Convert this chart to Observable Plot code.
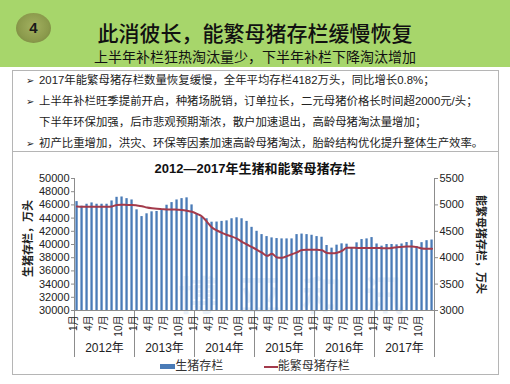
<!DOCTYPE html>
<html>
<head>
<meta charset="utf-8">
<script src="https://cdn.jsdelivr.net/npm/d3@7"></script>
<script src="https://cdn.jsdelivr.net/npm/@observablehq/plot@0.6"></script>
<style>
  html, body { margin: 0; padding: 0; background: #fff; }
  #page { position: relative; width: 510px; height: 384px; overflow: hidden; background: #fff;
          font-family: "Liberation Sans", "Noto Sans CJK SC", sans-serif; color: #222; }
  #header { position: absolute; left: 0; top: 0; width: 510px; height: 67px; background: #a7d66b; }
  #badge { position: absolute; left: 16px; top: 13px; width: 35px; height: 30px; border-radius: 50%;
           background: radial-gradient(ellipse at 50% 45%, #a3b160 0%, #8b9a4c 60%, #6f7d3a 100%);
           font: bold 15px "Liberation Sans", sans-serif; color: #1a1a1a; text-align: center; line-height: 30px; }
  #title { position: absolute; left: 0; width: 510px; top: 17px; text-align: center; font-size: 21px; font-weight: 500;
           color: #111; font-family: "Noto Sans CJK SC", sans-serif; }
  #subtitle { position: absolute; left: 0; width: 510px; top: 46px; text-align: center; font-size: 14px; color: #111;
           font-family: "Noto Sans CJK SC", sans-serif; }
  #box1 { position: absolute; left: 12px; top: 70px; width: 485px; height: 81px; border: 1px solid #b5b5b5; border-bottom: none; }
  #box2 { position: absolute; left: 12px; top: 151px; width: 485px; height: 222px; border: 1px solid #b5b5b5; }
  .bl { position: absolute; left: 26px; font-size: 11.4px; white-space: nowrap; color: #222; }
  .bl .m { display: inline-block; width: 13px; font-size: 10px; }
  #ctitle { position: absolute; left: 0; width: 510px; top: 158px; text-align: center; font-weight: bold; font-size: 13px; color: #111; }
  #chart { position: absolute; left: 13px; top: 172px; }
  #legend { position: absolute; left: 0; width: 510px; top: 356px; text-align: center; font-size: 12px; color: #333; }
  #legend span.sw { display: inline-block; vertical-align: middle; }
  #wm { position: absolute; left: 178px; top: 264px; font-size: 40px; font-weight: bold; color: #5b8fd6; opacity: 0.13;
        letter-spacing: 22px; font-family: "Noto Sans CJK SC", sans-serif; }
</style>
</head>
<body>
<div id="page">
  <div id="header"></div>
  <div id="badge">4</div>
  <div id="title">此消彼长，能繁母猪存栏缓慢恢复</div>
  <div id="subtitle">上半年补栏狂热淘汰量少，下半年补栏下降淘汰增加</div>
  <div id="box1"></div>
  <div id="box2"></div>
  <div class="bl" style="top:71px"><span class="m">➢</span>2017年能繁母猪存栏数量恢复缓慢，全年平均存栏4182万头，同比增长0.8%；</div>
  <div class="bl" style="top:92px"><span class="m">➢</span>上半年补栏旺季提前开启，种猪场脱销，订单拉长，二元母猪价格长时间超2000元/头；</div>
  <div class="bl" style="top:113px"><span class="m"></span>下半年环保加强，后市悲观预期渐浓，散户加速退出，高龄母猪淘汰量增加；</div>
  <div class="bl" style="top:134px"><span class="m">➢</span>初产比重增加，洪灾、环保等因素加速高龄母猪淘汰，胎龄结构优化提升整体生产效率。</div>
  <div id="ctitle">2012—2017年生猪和能繁母猪存栏</div>
  <div id="wm">博亚和讯</div>
  <div id="chart"></div>
  <div id="legend">
    <span class="sw" style="width:15px;height:5px;background:#4a7bb7;"></span><span>生猪存栏</span>
    <span style="display:inline-block;width:34px"></span>
    <span class="sw" style="width:14px;height:2px;background:#a33a4b;"></span><span>能繁母猪存栏</span>
  </div>
</div>
<script>
// ---- data (万头), monthly Jan 2012 – Dec 2017 ----
const years = [2012, 2013, 2014, 2015, 2016, 2017];
const monthLabels = ["1月", "4月", "7月", "10月"];
const monthLabelIdx = [0, 3, 6, 9];

const hog2012 = [46500, 45800, 46100, 46300, 46100, 46100, 46100, 46600, 47150, 47200, 46950, 46750];
const hog2013 = [45250, 44230, 44650, 44950, 45000, 45150, 45950, 46350, 46750, 46950, 47070, 46000];
const hog2014 = [44700, 44100, 43900, 43380, 43400, 43500, 43580, 43900, 44050, 43900, 43500, 42600];
const hog2015 = [42000, 41500, 41200, 41000, 40900, 40850, 40850, 40850, 41500, 41580, 41500, 41400];
const hog2016 = [41200, 41100, 39850, 39450, 39900, 40100, 40050, 39450, 40250, 40750, 40850, 41050];
const hog2017 = [40080, 39750, 40000, 40000, 39950, 40080, 40300, 40600, 39700, 40280, 40580, 40680];

const sow2012 = [4970, 4965, 4965, 4965, 4965, 4965, 4965, 4970, 5000, 5005, 5000, 5000];
const sow2013 = [4990, 4975, 4950, 4935, 4925, 4920, 4915, 4915, 4910, 4905, 4890, 4870];
const sow2014 = [4830, 4780, 4680, 4570, 4515, 4470, 4430, 4400, 4360, 4300, 4250, 4200];
const sow2015 = [4150, 4095, 4035, 4075, 4005, 4000, 4030, 4065, 4100, 4145, 4150, 4150];
const sow2016 = [4150, 4140, 4090, 4085, 4095, 4130, 4190, 4190, 4185, 4185, 4185, 4185];
const sow2017 = [4185, 4180, 4180, 4185, 4200, 4205, 4210, 4210, 4200, 4175, 4170, 4168];

const leftTicks = [30000, 32000, 34000, 36000, 38000, 40000, 42000, 44000, 46000, 48000, 50000];
const rightTicks = [3000, 3500, 4000, 4500, 5000, 5500];

// ---- build table ----
const hogAll = [hog2012, hog2013, hog2014, hog2015, hog2016, hog2017];
const sowAll = [sow2012, sow2013, sow2014, sow2015, sow2016, sow2017];
const data = [];
years.forEach((yr, k) => {
  hogAll[k].forEach((v, m) => data.push({i: k * 12 + m, year: yr, month: m + 1, hog: v, sow: sowAll[k][m]}));
});
// right axis (sows) mapped onto the left scale
const L0 = 30000, L1 = 50000, R0 = 3000, R1 = 5500;
const toLeft = s => L0 + (s - R0) * (L1 - L0) / (R1 - R0);
const fromLeft = v => Math.round(R0 + (v - L0) * (R1 - R0) / (L1 - L0));

const monthTicks = [];
years.forEach((yr, k) => monthLabelIdx.forEach((m, j) => monthTicks.push({x: k * 12 + m + 0.5, label: monthLabels[j]})));
const yearBounds = d3.range(0, years.length * 12 + 1, 12);
const yearCenters = years.map((yr, k) => ({x: k * 12 + 6, label: yr + "年"}));

const axisColor = "#8c8c8c";
const chart = Plot.plot({
  width: 485,
  height: 190,
  marginLeft: 61,
  marginRight: 64,
  marginTop: 6,
  marginBottom: 52,
  style: {fontFamily: '"Liberation Sans", "Noto Sans CJK SC", sans-serif', fontSize: "11px", color: "#222", background: "transparent", overflow: "visible"},
  x: {type: "linear", domain: [0, years.length * 12], axis: null},
  y: {domain: [L0, L1], axis: null},
  marks: [
    Plot.rectY(data, {x1: "i", x2: d => d.i + 1, y1: L0, y2: "hog", insetLeft: 1.4, insetRight: 1.3, fill: "#4a7bb7"}),
    Plot.line(data, {x: d => d.i + 0.5, y: d => toLeft(d.sow), stroke: "#a33a4b", strokeWidth: 2, curve: "monotone-x"}),
    Plot.ruleX([0], {stroke: axisColor}),
    Plot.ruleX([years.length * 12], {stroke: axisColor}),
    Plot.ruleY([L0], {stroke: axisColor}),
    Plot.axisY({anchor: "left", ticks: leftTicks, tickFormat: d => String(d), tickSize: 3, tickPadding: 2, fontSize: 11, stroke: axisColor, label: null}),
    Plot.axisY({anchor: "right", ticks: rightTicks.map(toLeft), tickFormat: d => String(fromLeft(d)), tickSize: 3, tickPadding: 2, fontSize: 11, stroke: axisColor, label: null}),
    Plot.axisX({anchor: "bottom", ticks: yearBounds, tickSize: 47, tickFormat: () => "", stroke: axisColor, label: null}),
    Plot.text(monthTicks, {x: "x", text: "label", frameAnchor: "bottom", dy: 5, rotate: -90, textAnchor: "end", fontSize: 10, fill: "#222"}),
    Plot.text(yearCenters, {x: "x", text: "label", frameAnchor: "bottom", dy: 41, fontSize: 12, fill: "#222"}),
    Plot.text(["生猪存栏，万头"], {frameAnchor: "left", dx: -46, dy: -6, rotate: -90, textAnchor: "middle", fontSize: 11, fontWeight: "bold", fill: "#222"}),
    Plot.text(["能繁母猪存栏，万头"], {frameAnchor: "right", dx: 46, rotate: 90, textAnchor: "middle", fontSize: 11, fontWeight: "bold", fill: "#222"})
  ]
});
document.getElementById("chart").appendChild(chart);
</script>
</body>
</html>
